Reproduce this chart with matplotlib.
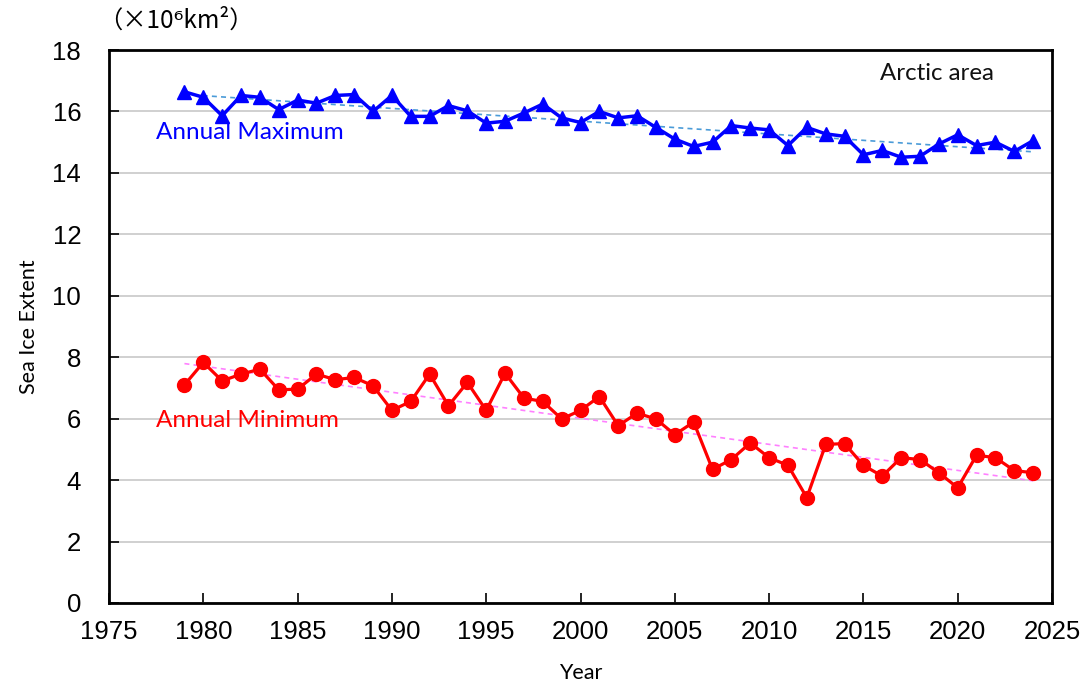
import numpy as np
import matplotlib
matplotlib.use("Agg")
import matplotlib.pyplot as plt

years = list(range(1979, 2025))

annual_max = [16.64, 16.46, 15.86, 16.52, 16.46, 16.06, 16.37, 16.27, 16.52, 16.55,
              16.00, 16.52, 15.84, 15.84, 16.19, 16.02, 15.62, 15.68, 15.95, 16.24,
              15.79, 15.64, 16.00, 15.79, 15.86, 15.48, 15.10, 14.86, 15.00, 15.54,
              15.46, 15.40, 14.89, 15.48, 15.27, 15.19, 14.59, 14.73, 14.51, 14.54,
              14.94, 15.24, 14.89, 15.00, 14.70, 15.05]

annual_min = [7.10, 7.83, 7.23, 7.45, 7.61, 6.94, 6.96, 7.45, 7.27, 7.34,
              7.07, 6.27, 6.56, 7.45, 6.42, 7.18, 6.27, 7.48, 6.67, 6.56,
              5.99, 6.27, 6.72, 5.77, 6.18, 5.99, 5.48, 5.89, 4.35, 4.67,
              5.21, 4.73, 4.48, 3.43, 5.16, 5.19, 4.48, 4.13, 4.73, 4.67,
              4.24, 3.75, 4.81, 4.73, 4.31, 4.24]

x_ticks = [1975, 1980, 1985, 1990, 1995, 2000, 2005, 2010, 2015, 2020, 2025]
y_ticks = [0, 2, 4, 6, 8, 10, 12, 14, 16, 18]

yr = np.array(years)
trend_max = np.polyval(np.polyfit(yr, annual_max, 1), yr)
trend_min = np.polyval(np.polyfit(yr, annual_min, 1), yr)

fig = plt.figure(figsize=(10.83, 6.88), dpi=100)
ax = fig.add_axes([109 / 1083, 1 - 603 / 688, (1052 - 109) / 1083, (603 - 50) / 688])

ax.grid(axis='y', color='#c8c8c8', linewidth=1.2, zorder=0)

ax.plot(yr, trend_max, linestyle=(0, (3, 2.5)), color='#4a9bd8', linewidth=1.2, zorder=2)
ax.plot(yr, trend_min, linestyle=(0, (3, 2.5)), color='#ff80ff', linewidth=1.2, zorder=2)

ax.plot(years, annual_max, color='#0000ff', linewidth=2.5, marker='^', markersize=10.5, zorder=3)
ax.plot(years, annual_min, color='#ff0000', linewidth=2.3, marker='o', markersize=10, zorder=3)

ax.set_xlim(1975, 2025)
ax.set_ylim(0, 18)
ax.set_xticks(x_ticks)
ax.set_yticks(y_ticks)

tick_font = {'family': ['Liberation Sans', 'DejaVu Sans'], 'size': 18.5}
ax.set_xticklabels([str(t) for t in x_ticks], fontdict=tick_font)
ax.set_yticklabels([str(t) for t in y_ticks], fontdict=tick_font)
ax.tick_params(direction='in', length=7, width=1.2)
ax.tick_params(axis='x', pad=12)
ax.tick_params(axis='y', pad=20)

for s in ax.spines.values():
    s.set_linewidth(2)

lab = ['Lato', 'DejaVu Sans']
ax.set_xlabel('Year', fontsize=15.5, family=lab, labelpad=14)
ax.set_ylabel('Sea Ice Extent', fontsize=15.5, family=lab, labelpad=10)

ax.text(0.9385, 0.957, 'Arctic area', transform=ax.transAxes, fontsize=17.3,
        family=lab, ha='right', va='center', color='#111111')
ax.text(1977.5, 15.3, 'Annual Maximum', fontsize=17.5, family=lab, color='#0000ff', va='center')
ax.text(1977.5, 5.95, 'Annual Minimum', fontsize=17.5, family=lab, color='#ff0000', va='center')

fig.text(98 / 1083, 1 - 21 / 688, '（×10⁶km²）', fontsize=17.5,
         family=['Noto Sans CJK JP', 'DejaVu Sans'], va='center', ha='left')

fig.savefig('out.png', dpi=100)
